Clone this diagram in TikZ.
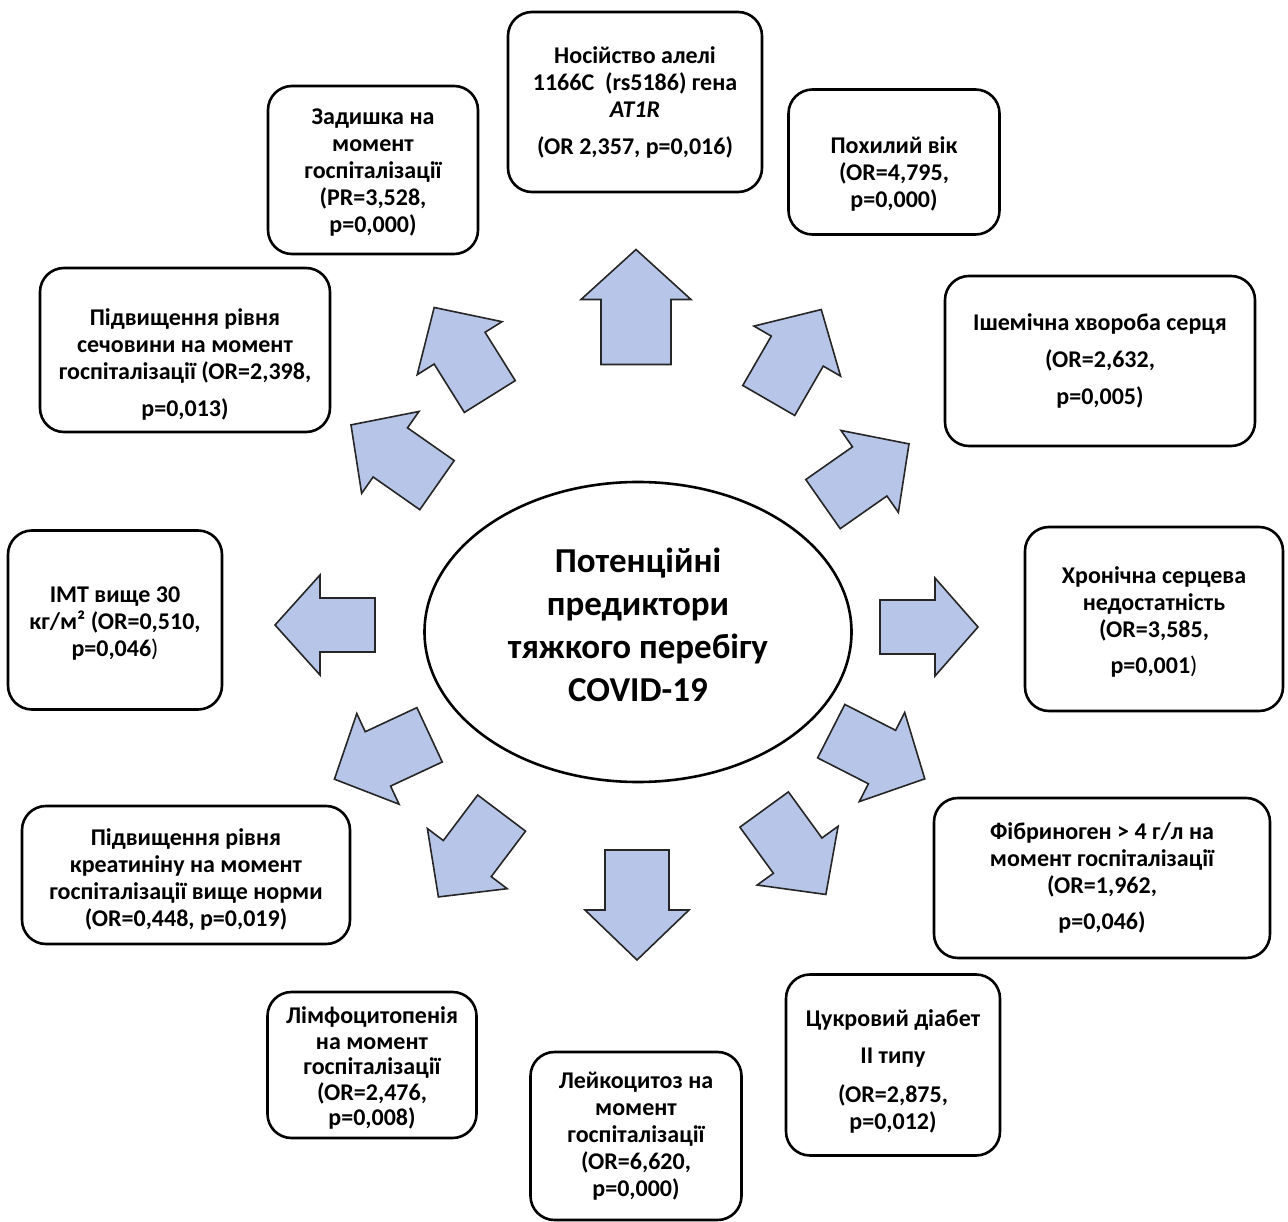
\documentclass[tikz,border=0pt]{standalone}
\usepackage{fontspec}
\setmainfont{Carlito}
\usetikzlibrary{shapes.geometric}
\definecolor{arrowblue}{RGB}{182,197,232}
\tikzset{
  box/.style={draw, line width=2.6pt, rounded corners=24pt, fill=white, inner sep=0pt},
  txt/.style={align=center, inner sep=0pt, font=\bfseries\fontsize{24}{27}\selectfont},
  ctxt/.style={align=center, inner sep=0pt, font=\bfseries\fontsize{35}{43}\selectfont},
  arr/.style={draw=black!85, line width=1.6pt, fill=arrowblue, line join=miter},
  pics/barrow/.style n args={4}{code={
    \draw[arr] ({-#1/2},{-#4}) -- ({#1/2-#2},{-#4}) -- ({#1/2-#2},{-#3}) -- ({#1/2},0)
      -- ({#1/2-#2},{#3}) -- ({#1/2-#2},{#4}) -- ({-#1/2},{#4}) -- cycle;}}
}
\begin{document}
\begin{tikzpicture}[x=1pt,y=-1pt]
\useasboundingbox (0,0) rectangle (1288,1222);

% arrows
\pic[rotate=90]   at (636,307) {barrow={115}{50}{55}{35}};
\pic[rotate=-90]  at (637,905) {barrow={110}{50}{52}{32}};
\pic[rotate=0]    at (929,627) {barrow={98}{43}{49}{27}};
\pic[rotate=180]  at (325,625) {barrow={100}{45}{50}{27}};
\pic[rotate=122]  at (462,352) {barrow={105}{48}{50}{30}};
\pic[rotate=60]   at (795,355) {barrow={105}{48}{50}{30}};
\pic[rotate=145]  at (394,455) {barrow={105}{48}{50}{30}};
\pic[rotate=35]   at (866,474) {barrow={105}{48}{50}{30}};
\pic[rotate=205]  at (382,757) {barrow={105}{48}{50}{30}};
\pic[rotate=-27]  at (878,755) {barrow={105}{48}{50}{30}};
\pic[rotate=233]  at (470,855) {barrow={105}{48}{50}{30}};
\pic[rotate=-54]  at (795,852) {barrow={105}{48}{50}{30}};

% centre
\node[draw, ellipse, line width=2.6pt, fill=white, minimum width=427pt, minimum height=300pt] (c) at (638,632) {};
\node[ctxt] at ([yshift=7pt]c.center) {Потенційні\\предиктори\\тяжкого перебігу\\COVID-19};

% boxes
\node[box, minimum width=254pt, minimum height=180pt] (b1) at (635,102) {};
\node[txt] at (b1.center) {Носійство алелі\\1166C\ \ (rs5186) гена\\\textit{AT1R}\\[10pt](OR 2,357, p=0,016)};

\node[box, minimum width=210pt, minimum height=168pt] (b2) at (373,170) {};
\node[txt] at ([yshift=-3pt]b2.center) {Задишка на\\момент\\госпіталізації\\(PR=3,528,\\p=0,000)};

\node[box, minimum width=211pt, minimum height=145pt] (b3) at (894,162) {};
\node[txt] at ([yshift=-12pt]b3.center) {Похилий вік\\(OR=4,795,\\p=0,000)};

\node[box, minimum width=290pt, minimum height=164pt] (b4) at (185,350) {};
\node[txt] at ([yshift=-14pt]b4.center) {Підвищення рівня\\сечовини на момент\\госпіталізації (OR=2,398,\\[10pt]p=0,013)};

\node[box, minimum width=310pt, minimum height=170pt] (b5) at (1100,361) {};
\node[txt] at (b5.center) {Ішемічна хвороба серця\\[10pt](OR=2,632,\\[10pt]p=0,005)};

\node[box, minimum width=214pt, minimum height=179pt] (b6) at (115,620) {};
\node[txt] at ([yshift=-4pt]b6.center) {ІМТ вище 30\\кг/м² (OR=0,510,\\p=0,046{\mdseries)}};

\node[box, minimum width=258pt, minimum height=184pt] (b7) at (1154,619) {};
\node[txt] at ([yshift=-3pt]b7.center) {Хронічна серцева\\недостатність\\(OR=3,585,\\[9pt]p=0,001{\mdseries)}};

\node[box, minimum width=328pt, minimum height=138pt] (b8) at (186,875) {};
\node[txt] at ([yshift=-4pt]b8.center) {Підвищення рівня\\креатиніну на момент\\госпіталізації вище норми\\(OR=0,448, p=0,019)};

\node[box, minimum width=336pt, minimum height=160pt] (b9) at (1102,878) {};
\node[txt] at (b9.center) {Фібриноген > 4 г/л на\\момент госпіталізації\\(OR=1,962,\\[9pt]p=0,046)};

\node[box, minimum width=209pt, minimum height=146pt] (b10) at (372,1065) {};
\node[txt, font=\bfseries\fontsize{24}{25.5}\selectfont] at ([yshift=-3pt]b10.center) {Лімфоцитопенія\\на момент\\госпіталізації\\(OR=2,476,\\p=0,008)};

\node[box, minimum width=211pt, minimum height=168pt] (b11) at (636,1136) {};
\node[txt] at (b11.center) {Лейкоцитоз на\\момент\\госпіталізації\\(OR=6,620,\\p=0,000)};

\node[box, minimum width=214pt, minimum height=181pt] (b12) at (893,1065) {};
\node[txt] at ([yshift=-6pt]b12.center) {Цукровий діабет\\[10pt]ІІ типу\\[12pt](OR=2,875,\\p=0,012)};
\end{tikzpicture}
\end{document}
